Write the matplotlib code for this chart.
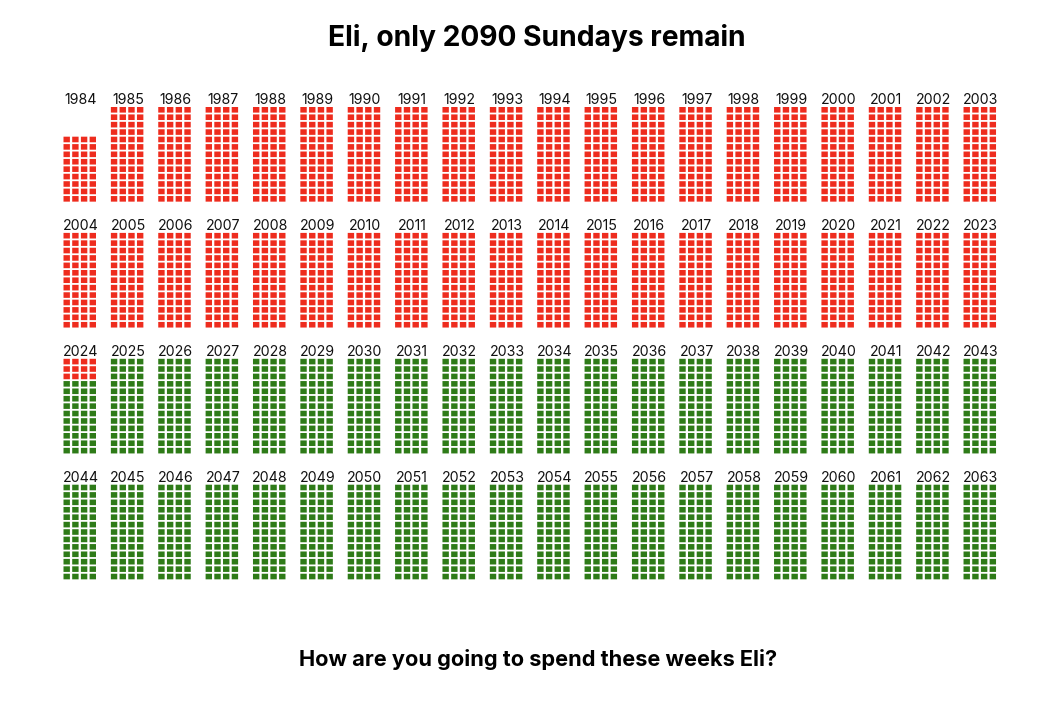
import matplotlib
matplotlib.use('Agg')
import matplotlib.pyplot as plt

plt.rcParams['font.family'] = ['Inter', 'DejaVu Sans']

years = list(range(1984, 2064))

# weeks drawn for each year (1984 starts late)
weeks_total = [36] + [52]*79
# weeks already gone, per year
weeks_gone = [36] + [52]*39 + [12] + [0]*39

red = '#ee2c1e'
green = '#2e7b18'

per_row = 4
per_line = 20

left = 63.5
top = 107.0
year_step = 47.37
line_step = 125.9
cell_x = 8.7
cell_y = 7.42
cell_w = 6.4
cell_h = 5.6

fig = plt.figure(figsize=(10.6, 7.2), dpi=100)
ax = fig.add_axes([0, 0, 1, 1])
ax.set_xlim(0, 1060)
ax.set_ylim(720, 0)
ax.axis('off')

xs = []
ys = []
cols = []
for i in range(len(years)):
    x0 = left + (i % per_line)*year_step
    y0 = top + (i // per_line)*line_step
    skip = 52 - weeks_total[i]
    for w in range(skip, 52):
        xs.append(x0 + (w % per_row)*cell_x)
        ys.append(y0 + (w // per_row)*cell_y)
        if w - skip < weeks_gone[i]:
            cols.append(red)
        else:
            cols.append(green)
    ax.text(x0 + 17.2, y0 - 3, str(years[i]), ha='center', va='baseline',
            fontsize=10.2, color='#111111')

bars = ax.bar(xs, cell_h, width=cell_w, bottom=ys, align='edge', color=cols, linewidth=0)
for b in bars:
    b.set_snap(False)

ax.text(537, 38, 'Eli, only 2090 Sundays remain', ha='center', va='center',
        fontsize=20.3, fontweight='bold', color='black')
ax.text(538, 659, 'How are you going to spend these weeks Eli?', ha='center', va='center',
        fontsize=15.65, fontweight='bold', color='black')

fig.savefig('out.png', dpi=100)
